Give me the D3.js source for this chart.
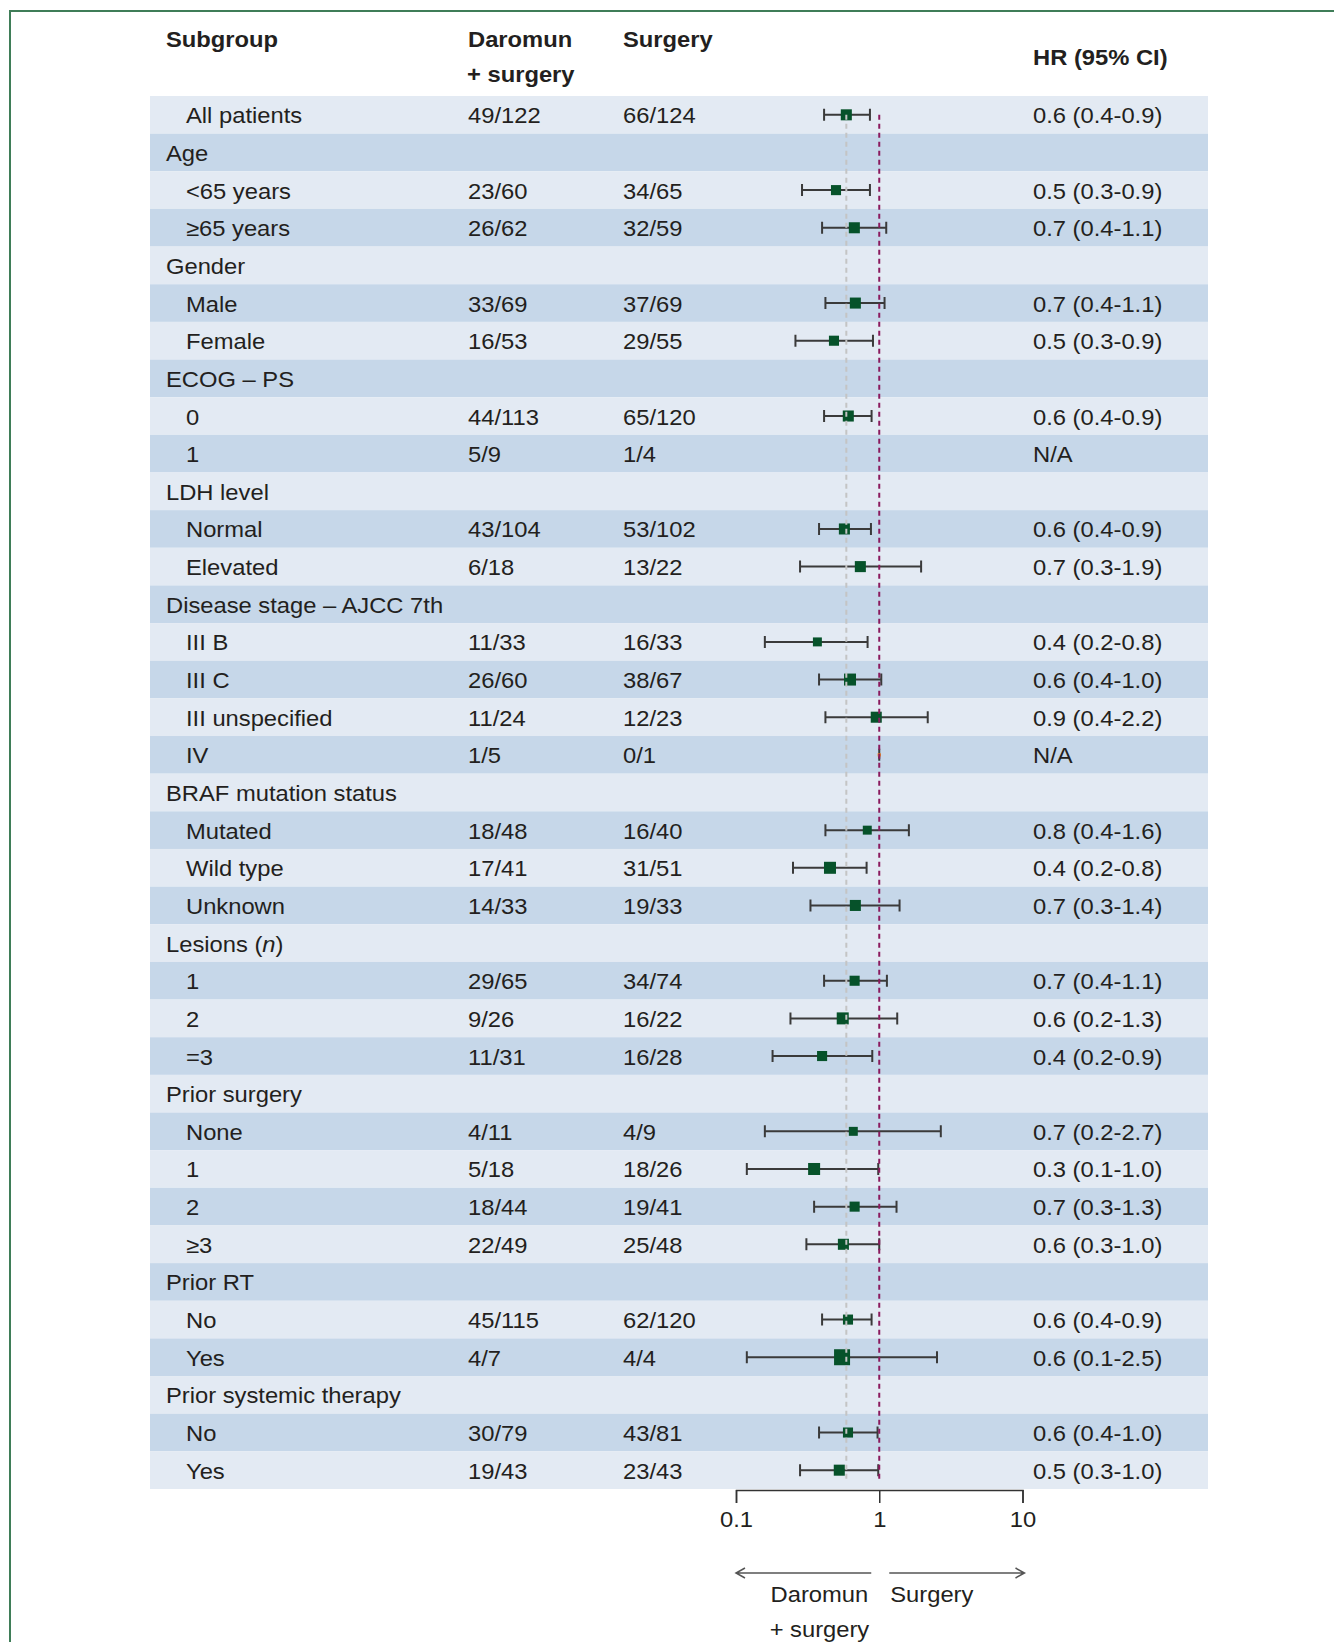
<!DOCTYPE html>
<html>
<head>
<meta charset="utf-8">
<script src="https://cdn.jsdelivr.net/npm/d3@7"></script>
<style>
  body { margin: 0; background: #fff; }
  text { font-family: "Liberation Sans", Arial, sans-serif; fill: #231f20; }
</style>
</head>
<body>
<div id="chart"></div>
<script>

// ---- data ----
var subgroups = ["All patients", "Age", "<65 years", "\u226565 years", "Gender", "Male", "Female",
  "ECOG \u2013 PS", "0", "1", "LDH level", "Normal", "Elevated", "Disease stage \u2013 AJCC 7th",
  "III B", "III C", "III unspecified", "IV", "BRAF mutation status", "Mutated", "Wild type", "Unknown",
  "Lesions (n)", "1", "2", "=3", "Prior surgery", "None", "1", "2", "\u22653", "Prior RT", "No", "Yes",
  "Prior systemic therapy", "No", "Yes"];

// 0 = group heading, 1 = subgroup item
var level = [1, 0, 1, 1, 0, 1, 1, 0, 1, 1, 0, 1, 1, 0, 1, 1, 1, 1, 0, 1, 1, 1, 0, 1, 1, 1, 0, 1, 1, 1, 1, 0, 1, 1, 0, 1, 1];

var daromunEvents = ["49/122", "", "23/60", "26/62", "", "33/69", "16/53", "", "44/113", "5/9", "",
  "43/104", "6/18", "", "11/33", "26/60", "11/24", "1/5", "", "18/48", "17/41", "14/33", "",
  "29/65", "9/26", "11/31", "", "4/11", "5/18", "18/44", "22/49", "", "45/115", "4/7", "", "30/79", "19/43"];

var surgeryEvents = ["66/124", "", "34/65", "32/59", "", "37/69", "29/55", "", "65/120", "1/4", "",
  "53/102", "13/22", "", "16/33", "38/67", "12/23", "0/1", "", "16/40", "31/51", "19/33", "",
  "34/74", "16/22", "16/28", "", "4/9", "18/26", "19/41", "25/48", "", "62/120", "4/4", "", "43/81", "23/43"];

var hrLabels = ["0.6 (0.4-0.9)", "", "0.5 (0.3-0.9)", "0.7 (0.4-1.1)", "", "0.7 (0.4-1.1)", "0.5 (0.3-0.9)",
  "", "0.6 (0.4-0.9)", "N/A", "", "0.6 (0.4-0.9)", "0.7 (0.3-1.9)", "", "0.4 (0.2-0.8)", "0.6 (0.4-1.0)",
  "0.9 (0.4-2.2)", "N/A", "", "0.8 (0.4-1.6)", "0.4 (0.2-0.8)", "0.7 (0.3-1.4)", "", "0.7 (0.4-1.1)",
  "0.6 (0.2-1.3)", "0.4 (0.2-0.9)", "", "0.7 (0.2-2.7)", "0.3 (0.1-1.0)", "0.7 (0.3-1.3)", "0.6 (0.3-1.0)",
  "", "0.6 (0.4-0.9)", "0.6 (0.1-2.5)", "", "0.6 (0.4-1.0)", "0.5 (0.3-1.0)"];

// hazard ratio and 95% CI as plotted (null = no estimate drawn)
var hr = [0.589, null, 0.499, 0.670, null, 0.681, 0.483, null, 0.608, null, null, 0.571, 0.738, null,
  0.370, 0.625, 0.953, 1.0, null, 0.825, 0.453, 0.681, null, 0.673, 0.556, 0.399, null,
  0.659, 0.351, 0.673, 0.562, null, 0.605, 0.550, null, 0.605, 0.526];
var ciLow = [0.412, null, 0.289, 0.399, null, 0.421, 0.260, null, 0.412, null, null, 0.380, 0.280, null,
  0.159, 0.380, 0.421, 1.0, null, 0.421, 0.250, 0.331, null, 0.412, 0.240, 0.180, null,
  0.159, 0.119, 0.351, 0.310, null, 0.399, 0.119, null, 0.380, 0.280];
var ciHigh = [0.861, null, 0.861, 1.119, null, 1.089, 0.904, null, 0.884, null, null, 0.875, 1.96, null,
  0.829, 1.033, 2.18, 1.0, null, 1.61, 0.816, 1.386, null, 1.131, 1.335, 0.894, null,
  2.69, 0.984, 1.32, 1.0, null, 0.884, 2.53, null, 0.973, 0.984];
// relative box weight
var boxWeight = [0.69, 0, 0.63, 0.69, 0, 0.69, 0.63, 0, 0.69, 0, 0, 0.69, 0.69, 0,
  0.56, 0.75, 0.69, 0.2, 0, 0.56, 0.75, 0.69, 0, 0.63, 0.75, 0.63, 0,
  0.56, 0.75, 0.63, 0.69, 0, 0.63, 1.0, 0, 0.63, 0.69];

var axisTicks = [0.1, 1, 10];

// ---- layout ----
var width = 1334, height = 1642;
var fontSize = 22, stretch = 1.08;
var tableLeft = 150, tableRight = 1208, tableTop = 96, tableBottom = 1489;
var colGroup = 166, colItem = 186, colDaromun = 468, colSurgery = 623, colHr = 1033;

var svg = d3.select('#chart').append('svg')
    .attr('width', width)
    .attr('height', height);

var x = d3.scaleLog().domain([0.1, 10]).range([736, 1022.5]);
var y = d3.scaleBand().domain(d3.range(subgroups.length)).range([tableTop, tableBottom]);
var box = d3.scaleLinear().domain([0, 1]).range([0, 16]);

function addText(parent, tx, ty, str, weight, anchor) {
  return parent.append('text')
      .attr('transform', `translate(${tx},${ty}) scale(${stretch},1)`)
      .attr('font-size', fontSize)
      .attr('font-weight', weight || 'normal')
      .attr('text-anchor', anchor || 'start')
      .text(str);
}

// frame
svg.append('path')
    .attr('d', `M10,${height} V11 H${width}`)
    .attr('fill', 'none')
    .attr('stroke', '#3f7d58')
    .attr('stroke-width', 2);

// header
addText(svg, colGroup, 47, 'Subgroup', 'bold');
addText(svg, colDaromun, 47, 'Daromun', 'bold');
addText(svg, colDaromun - 1, 82, '+ surgery', 'bold');
addText(svg, colSurgery, 47, 'Surgery', 'bold');
addText(svg, colHr, 65, 'HR (95% CI)', 'bold');

// row stripes
svg.append('g').selectAll('rect')
  .data(d3.range(subgroups.length))
  .join('rect')
    .attr('x', tableLeft)
    .attr('y', i => y(i))
    .attr('width', tableRight - tableLeft)
    .attr('height', y.bandwidth())
    .attr('fill', i => i % 2 === 0 ? '#e3eaf3' : '#c6d7e9');

// row text
var rows = svg.append('g');
subgroups.forEach(function(label, i) {
  var base = y(i) + y.bandwidth() / 2 + 8.5;
  var lx = level[i] === 0 ? colGroup : colItem;
  var m = label.match(/^(.*\()(n)(\).*)$/);
  if (m) {
    var t = addText(rows, lx, base, null);
    t.append('tspan').text(m[1]);
    t.append('tspan').attr('font-style', 'italic').text(m[2]);
    t.append('tspan').text(m[3]);
  } else {
    addText(rows, lx, base, label);
  }
  if (daromunEvents[i]) addText(rows, colDaromun, base, daromunEvents[i]);
  if (surgeryEvents[i]) addText(rows, colSurgery, base, surgeryEvents[i]);
  if (hrLabels[i]) addText(rows, colHr, base, hrLabels[i]);
});

// confidence intervals
var est = d3.range(subgroups.length).filter(i => hr[i] !== null);
var ci = svg.append('g').attr('stroke', '#3a3a3a').attr('stroke-width', 2);
ci.selectAll('path')
  .data(est)
  .join('path')
    .attr('fill', 'none')
    .attr('d', function(i) {
      var cy = y(i) + y.bandwidth() / 2;
      var x0 = x(ciLow[i]), x1 = x(ciHigh[i]);
      return `M${x0},${cy - 6}V${cy + 6}M${x0},${cy}H${x1}M${x1},${cy - 6}V${cy + 6}`;
    });

// point estimates
svg.append('g').selectAll('rect')
  .data(est)
  .join('rect')
    .attr('x', i => x(hr[i]) - box(boxWeight[i]) / 2)
    .attr('y', i => y(i) + y.bandwidth() / 2 - box(boxWeight[i]) / 2)
    .attr('width', i => box(boxWeight[i]))
    .attr('height', i => box(boxWeight[i]))
    .attr('fill', i => ciLow[i] === ciHigh[i] ? '#f0891c' : '#06522a');

// reference lines: overall HR and HR = 1
var lineTop = y(0) + y.bandwidth() / 2;
var lineBottom = tableBottom - 9;
svg.append('line')
    .attr('x1', x(hr[0])).attr('x2', x(hr[0]))
    .attr('y1', lineTop).attr('y2', lineBottom)
    .attr('stroke', '#c4c4c4')
    .attr('stroke-width', 2)
    .attr('stroke-dasharray', '5,4');
svg.append('line')
    .attr('x1', x(1)).attr('x2', x(1))
    .attr('y1', lineTop).attr('y2', lineBottom)
    .attr('stroke', '#8a1a5e')
    .attr('stroke-width', 2)
    .attr('stroke-dasharray', '5,4');

// x axis
var axis = svg.append('g')
    .attr('transform', `translate(0,${tableBottom + 1})`)
    .call(d3.axisBottom(x).tickValues(axisTicks).tickFormat(d => d).tickSize(13).tickPadding(8));
axis.selectAll('path, line')
    .attr('stroke', '#333')
    .attr('stroke-width', 1.5);
axis.selectAll('text')
    .attr('font-size', fontSize)
    .attr('font-family', '"Liberation Sans", Arial, sans-serif')
    .attr('fill', '#231f20')
    .attr('transform', `scale(${stretch},1)`);

// direction arrows
var arrowY = 1573;
var arrows = [
  {from: x(1) - 8, to: x(0.1)},
  {from: x(1) + 10, to: x(10) + 2}
];
svg.append('g').selectAll('path')
  .data(arrows)
  .join('path')
    .attr('fill', 'none')
    .attr('stroke', '#555')
    .attr('stroke-width', 1.5)
    .attr('d', function(a) {
      var s = a.to < a.from ? 1 : -1;
      return `M${a.from},${arrowY}H${a.to}M${a.to + s * 9},${arrowY - 5}L${a.to},${arrowY}L${a.to + s * 9},${arrowY + 5}`;
    });

addText(svg, x(1) - 11, 1602, 'Daromun', 'normal', 'end');
addText(svg, x(1) - 10, 1637, '+ surgery', 'normal', 'end');
addText(svg, x(1) + 11, 1602, 'Surgery');

</script>
</body>
</html>
